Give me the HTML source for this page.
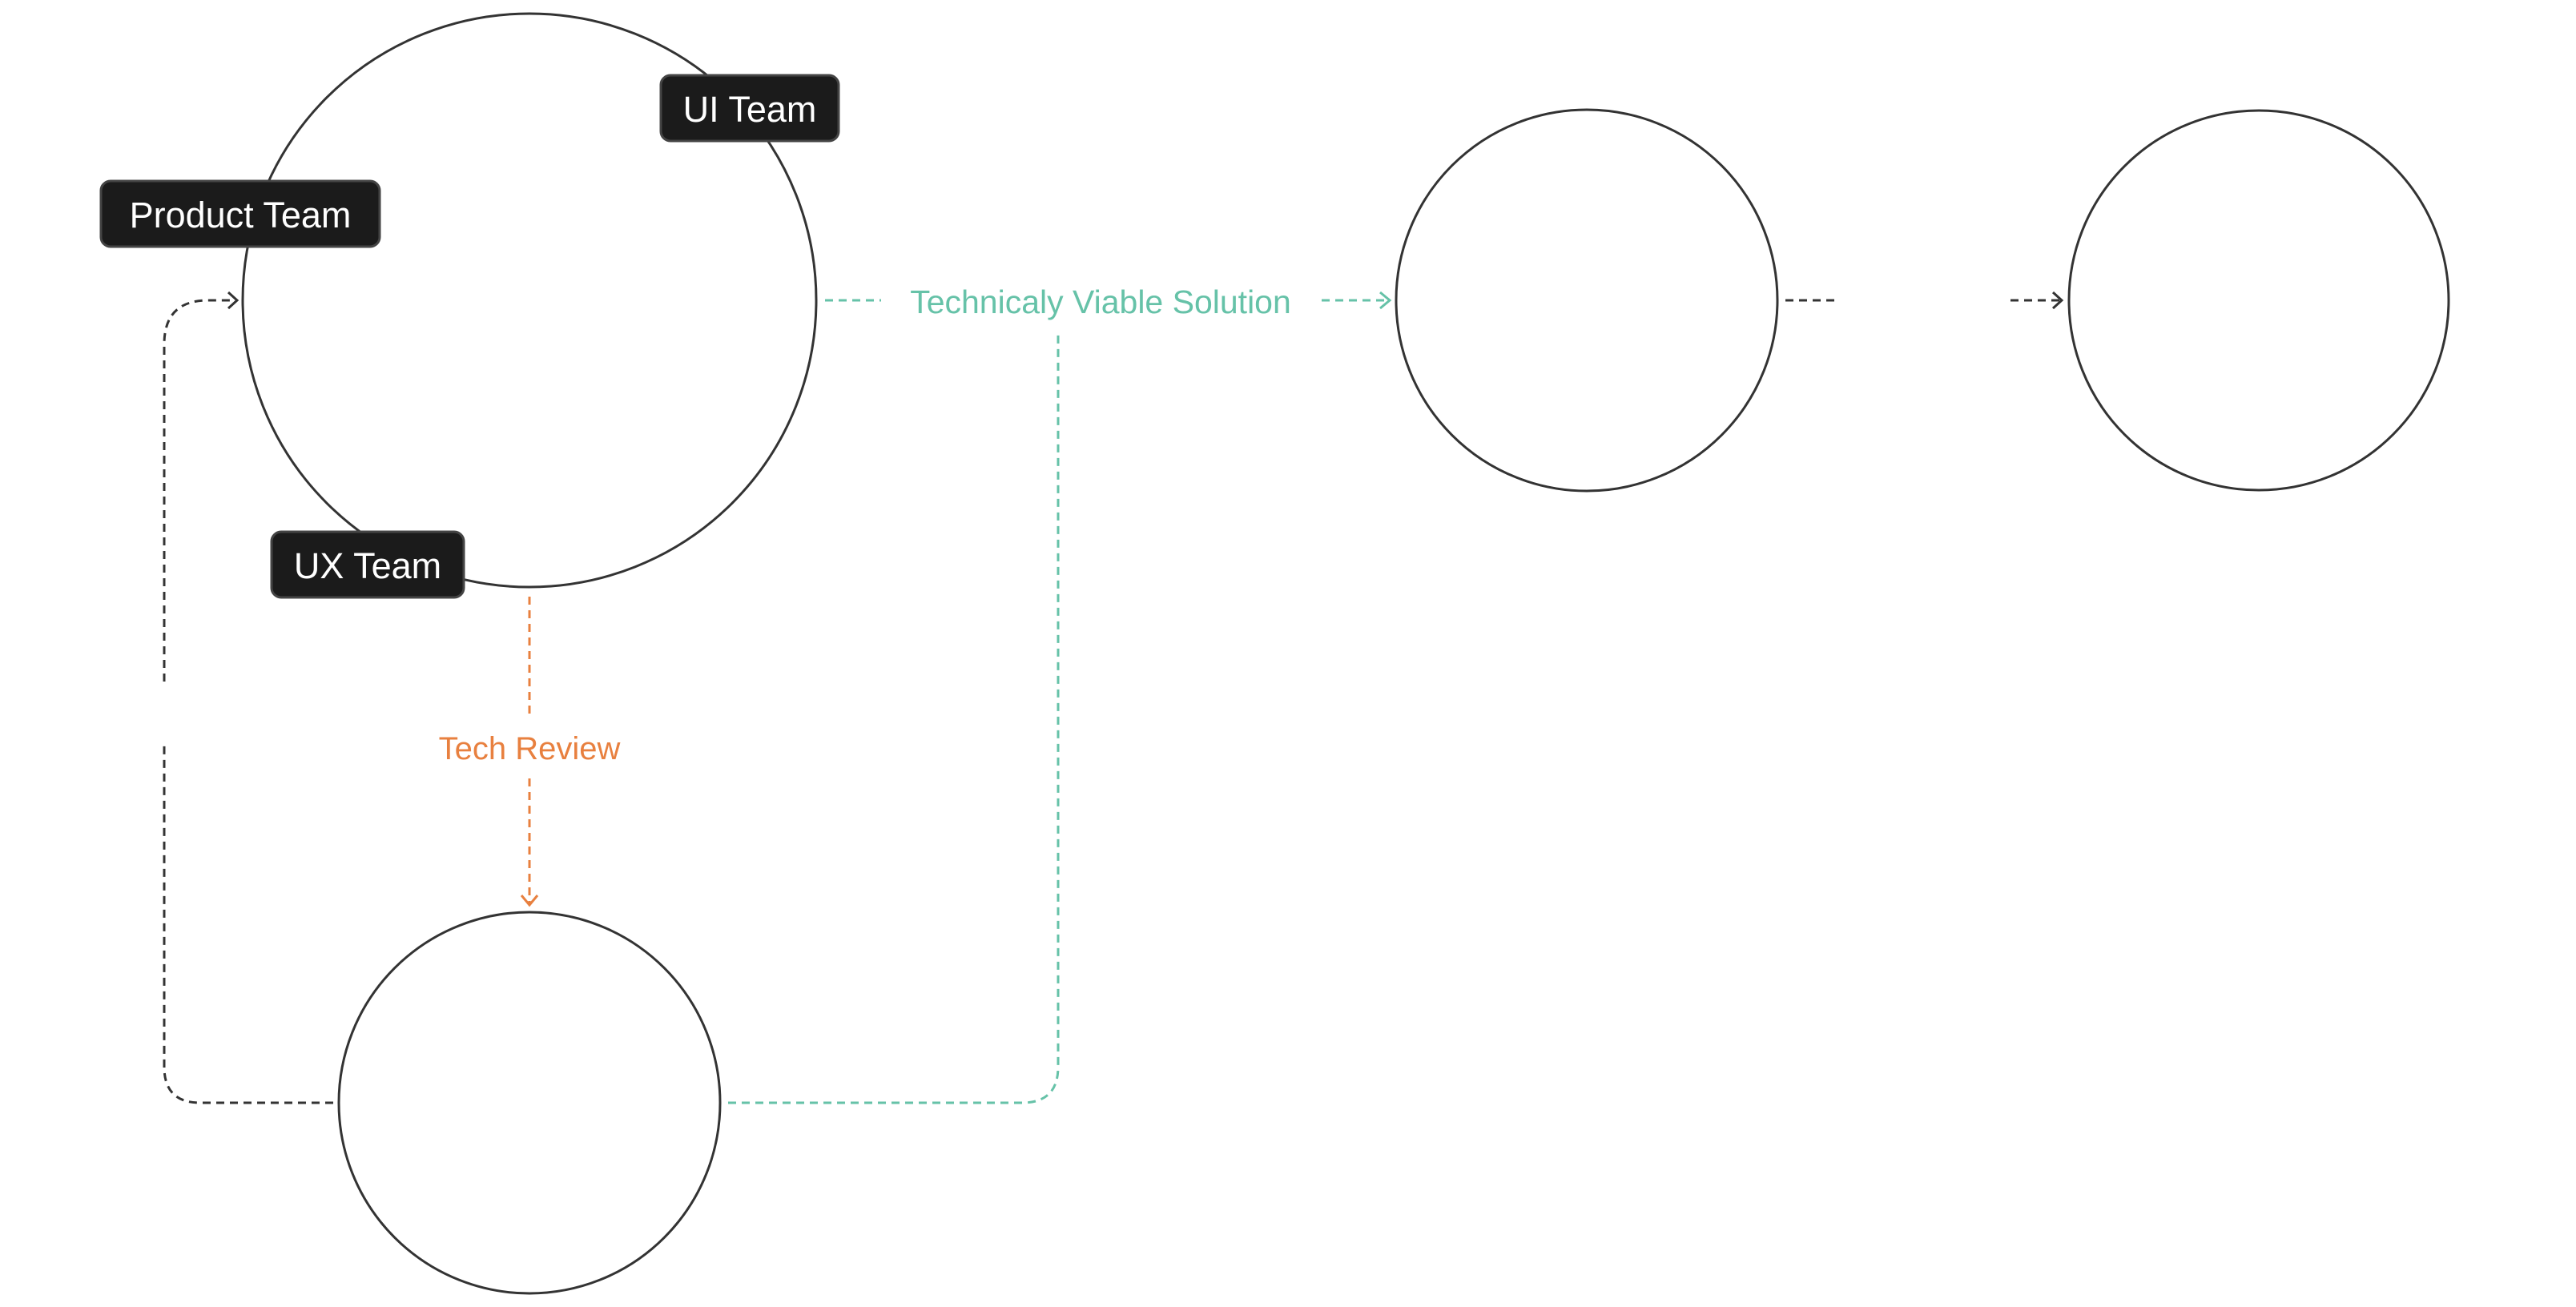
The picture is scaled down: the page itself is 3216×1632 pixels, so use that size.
<!DOCTYPE html>
<html><head><meta charset="utf-8"><style>
html,body{margin:0;padding:0;background:#fff;}
svg{display:block;}
text{font-family:"Liberation Sans",sans-serif;}
</style></head><body>
<svg width="3216" height="1632" viewBox="0 0 3216 1632" xmlns="http://www.w3.org/2000/svg">
<g fill="none" stroke="#333" stroke-width="3">
<circle cx="661" cy="375" r="358"/>
<circle cx="661" cy="1377" r="238"/>
<circle cx="1981" cy="375" r="238"/>
<circle cx="2820" cy="375" r="237"/>
</g>
<!-- teal -->
<g fill="none" stroke="#66c2a8" stroke-width="3" stroke-dasharray="10 7">
<path d="M1030 375 H1100"/>
<path d="M1650 375 H1733"/>
<path d="M909 1377 H1276 Q1321 1377 1321 1332 V418"/>
</g>
<path d="M1723 365 L1735 375 L1723 385" fill="none" stroke="#66c2a8" stroke-width="3"/>
<text x="1374" y="391" font-size="41" fill="#66c2a8" text-anchor="middle">Technicaly Viable Solution</text>
<!-- orange -->
<g fill="none" stroke="#e8803f" stroke-width="3" stroke-dasharray="10 7">
<path d="M661 745 V894"/>
<path d="M661 972 V1128"/>
</g>
<path d="M651 1118 L661 1130 L671 1118" fill="none" stroke="#e8803f" stroke-width="3"/>
<text x="661" y="948" font-size="40" fill="#e8803f" text-anchor="middle">Tech Review</text>
<!-- black loop -->
<g fill="none" stroke="#333" stroke-width="3" stroke-dasharray="10 7">
<path d="M416 1377 H250 Q205 1377 205 1332 V927"/>
<path d="M205 851 V430 Q205 375 260 375 H293"/>
<path d="M2229 375 H2290"/>
<path d="M2510 375 H2572"/>
</g>
<path d="M285 365 L296 375 L285 385" fill="none" stroke="#333" stroke-width="3"/>
<path d="M2563 365 L2574 375 L2563 385" fill="none" stroke="#333" stroke-width="3"/>
<!-- labels -->
<g stroke="#444" stroke-width="3" fill="#1b1b1b">
<rect x="126" y="226" width="348" height="82" rx="12"/>
<rect x="825" y="94" width="222" height="82" rx="12"/>
<rect x="339" y="664" width="240" height="82" rx="12"/>
</g>
<g fill="#fff" font-size="45" text-anchor="middle">
<text x="300" y="284">Product Team</text>
<text x="936" y="152">UI Team</text>
<text x="459" y="722">UX Team</text>
</g>
</svg>
</body></html>
